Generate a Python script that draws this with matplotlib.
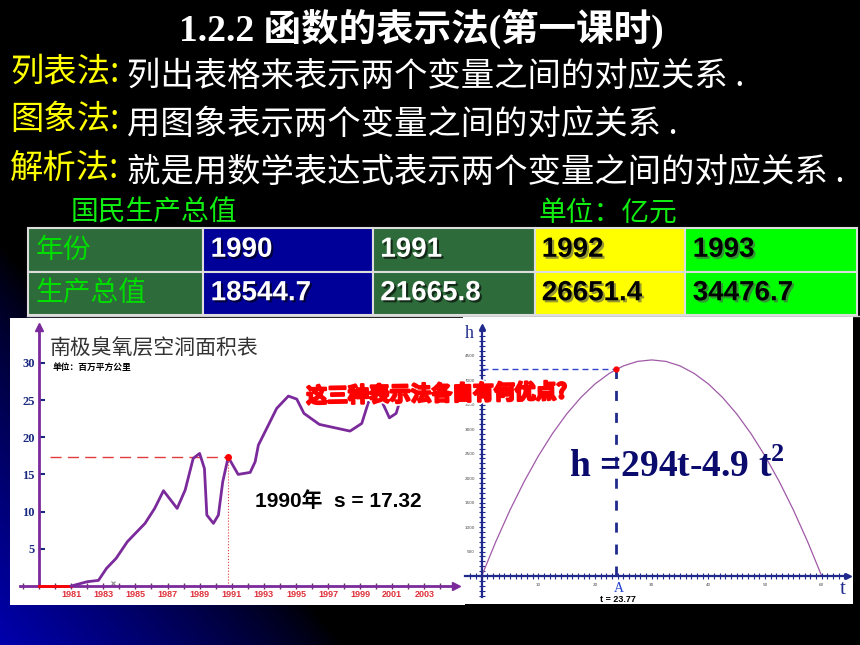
import numpy as np
import matplotlib.pyplot as plt
import matplotlib.patheffects as pe

plt.rcParams['mathtext.fontset'] = 'custom'
plt.rcParams['mathtext.rm'] = 'Liberation Serif'
plt.rcParams['mathtext.bf'] = 'Liberation Serif:bold'

W, H = 860, 645
CJK = ['Noto Sans CJK SC', 'DejaVu Sans']
SANS = ['Liberation Sans', 'Noto Sans CJK SC']
SERIF = ['Liberation Serif', 'Noto Sans CJK SC']

# --- table: GNP (亿元)
table_years = ['1990', '1991', '1992', '1993']
table_gnp = [18544.7, 21665.8, 26651.4, 34476.7]
row_labels = ['年份', '生产总值']

# --- ozone hole area (百万平方公里)
ozone_year = [1981.0, 1982.0, 1982.7, 1983.2, 1983.8, 1984.5, 1985.0, 1985.6, 1986.2, 1986.75,
              1987.6, 1988.1, 1988.6, 1989.0, 1989.3, 1989.45, 1989.86, 1990.17, 1990.44, 1990.78,
              1991.4, 1992.15, 1992.46, 1992.66, 1993.18, 1993.8, 1994.53, 1995.05, 1995.5, 1996.46,
              1998.37, 1999.1, 1999.51, 1999.9, 2000.34, 2000.65, 2000.82, 2001.24, 2001.49, 2001.7]
ozone_area = [0, 0.58, 0.76, 2.37, 3.72, 5.96, 7.08, 8.42, 10.43, 12.81,
              10.43, 12.9, 17.15, 17.82, 15.8, 9.54, 8.42, 9.54, 14.0, 17.32,
              15.0, 15.27, 16.7, 18.94, 21.18, 23.87, 25.53, 25.12, 23.2, 21.72,
              20.82, 21.85, 24.67, 25.6, 24.85, 23.42, 22.6, 23.2, 24.99, 25.3]
ozone_ticks = list(range(1981, 2004, 2))
ozone_yticks = [5, 10, 15, 20, 25, 30]
mark_year, mark_area = 1990.78, 17.32

# --- rocket height h (m) vs t (s)
rocket_t = [0, 2.5, 5, 7.5, 10, 12.5, 15, 17.5, 20, 22.5, 25, 27.5, 30,
            32.5, 35, 37.5, 40, 42.5, 45, 47.5, 50, 52.5, 55, 57.5, 60]
rocket_h = [0, 704, 1348, 1929, 2450, 2909, 3308, 3644, 3920, 4134, 4288, 4380, 4410,
            4380, 4288, 4134, 3920, 3644, 3308, 2909, 2450, 1929, 1348, 704, 0]
point_t, point_h = 23.77, 4220
rocket_xticks = [10, 20, 30, 40, 50, 60]
rocket_yticks = [500, 1000, 1500, 2000, 2500, 3000, 3500, 4000, 4500]


def fpos(x, y):
    return x / W, 1 - y / H


def frect(x0, y0, x1, y1):
    return [x0 / W, 1 - y1 / H, (x1 - x0) / W, (y1 - y0) / H]


fig = plt.figure(figsize=(8.6, 6.45), dpi=100, facecolor='black')

# background: black with blue glow in lower left
bg = fig.add_axes([0, 0, 1, 1])
bg.set_xlim(0, W)
bg.set_ylim(H, 0)
bg.axis('off')
yy, xx = np.mgrid[0:H:3, 0:W:3]
u = xx / W
v = (H - yy) / H
glow = np.clip(1 - u / 0.4 - v / 0.62, 0, 1) ** 0.8
img = np.zeros(xx.shape + (3,))
img[..., 2] = 0.68 * glow
bg.imshow(img, extent=[0, W, H, 0], aspect='auto', interpolation='bilinear')
bg.plot([27, 465], [316, 316], color='#cccccc', lw=1)
bg.plot([463, 860], [316, 316], color='#cccccc', lw=1)

# header texts
fig.text(*fpos(421, 29), '1.2.2 函数的表示法(第一课时)', ha='center', va='center',
         color='white', fontsize=27, fontweight='bold', family=SERIF)
heads = ['列表法:', '图象法:', '解析法:']
lines = ['列出表格来表示两个变量之间的对应关系 .',
         '用图象表示两个变量之间的对应关系 .',
         '就是用数学表达式表示两个变量之间的对应关系 .']
for i, (hd, ln) in enumerate(zip(heads, lines)):
    y = 72 + i * 48
    fig.text(*fpos(10, y), hd, ha='left', va='center', color='#ffff00',
             fontsize=24, family=CJK)
    fig.text(*fpos(127, y + 4), ln, ha='left', va='center', color='white',
             fontsize=24, family=CJK)

fig.text(*fpos(71, 213), '国民生产总值', ha='left', va='center', color='#11ee11',
         fontsize=20, family=CJK)
fig.text(*fpos(538, 213), '单位：亿元', ha='left', va='center', color='#11ee11',
         fontsize=20, family=CJK)

# table
tax = fig.add_axes(frect(28, 228, 857, 315))
tax.axis('off')
cell_text = [[row_labels[0]] + table_years,
             [row_labels[1]] + [f'{g:.1f}' for g in table_gnp]]
col_bg = ['#2d6b3a', '#000099', '#2d6b3a', '#ffff00', '#00ff00']
col_fg = ['#00dd00', 'white', 'white', 'black', 'black']
widths = np.array([175, 170, 162, 150, 172]) / 829
tbl = tax.table(cellText=cell_text, cellColours=[col_bg, col_bg], colWidths=widths,
                cellLoc='left', bbox=[0, 0, 1, 1])
tbl.auto_set_font_size(False)
for (r, c), cell in tbl.get_celld().items():
    cell.set_edgecolor('#dddddd')
    cell.set_linewidth(1.5)
    cell.PAD = 0.045
    t = cell.get_text()
    t.set_color(col_fg[c])
    t.set_fontsize(20)
    if c == 0:
        t.set_family(CJK)
    else:
        t.set_fontweight('bold')
        t.set_family(SANS)
        shadow = 'black' if col_fg[c] == 'white' else '#555555'
        t.set_path_effects([pe.withSimplePatchShadow(offset=(1.5, -1.5),
                                                     shadow_rgbFace=shadow, alpha=0.6)])

# left chart: ozone hole
purple = '#7b2a9b'
ax1 = fig.add_axes(frect(10, 318, 465, 605))
ax1.set_facecolor('white')
ax1.set_xlim(1977.19, 2005.53)
ax1.set_ylim(-2.55, 36.02)
for s in ['top', 'right']:
    ax1.spines[s].set_visible(False)
ax1.spines['left'].set_position(('data', 1979))
ax1.spines['left'].set_bounds(0, 34.8)
ax1.spines['bottom'].set_position(('data', 0))
ax1.spines['bottom'].set_bounds(1977.82, 2005.0)
for s in ['left', 'bottom']:
    ax1.spines[s].set_color(purple)
    ax1.spines[s].set_linewidth(2)
ax1.plot(1979, 34.8, marker='^', color=purple, ms=6, clip_on=False)
ax1.plot(2005.0, 0, marker='>', color=purple, ms=6, clip_on=False)
ax1.set_xticks(ozone_ticks)
ax1.set_xticklabels([str(y) for y in ozone_ticks], color='#e0303a', fontsize=6.5,
                    fontweight='bold', family='Liberation Sans')
ax1.set_xticks(range(1978, 2005), minor=True)
ax1.tick_params(axis='x', which='both', direction='inout', length=4, width=1,
                color='#663366', pad=1)
ax1.set_yticks(ozone_yticks)
ax1.set_yticklabels([str(v) for v in ozone_yticks], color='#1a2a80', fontsize=9,
                    fontweight='bold', family='Liberation Serif')
ax1.tick_params(axis='y', direction='in', length=4, width=1.5, color='#1a2a80', pad=3)
ax1.plot([1979, 1981], [0, 0], color='red', lw=2, zorder=3)
ax1.plot(ozone_year, ozone_area, color=purple, lw=2, zorder=4)
ax1.plot([1979.69, mark_year], [mark_area, mark_area], color='#e03c3c', lw=1,
         dashes=(8, 4.5))
ax1.plot([mark_year, mark_year], [0, mark_area], color='#e03c3c', lw=0.8, ls=':')
ax1.plot(mark_year, mark_area, 'o', color='red', ms=4, zorder=5)
ax1.plot(1983.6, 0.4, marker='x', color='#888888', ms=3, mew=0.8)

fig.text(*fpos(50, 348), '南极臭氧层空洞面积表', ha='left', va='center',
         color='#333333', fontsize=15, family=CJK)
fig.text(*fpos(53, 367), '单位：百万平方公里', ha='left', va='center',
         color='black', fontsize=6.3, fontweight='bold', family=CJK)
fig.text(*fpos(255, 501), '1990年  s = 17.32', ha='left', va='center',
         color='black', fontsize=15, fontweight='bold', family=SANS)

# right chart: h = 294t - 4.9t^2
navy = '#1f2a8c'
ax2 = fig.add_axes(frect(463, 317, 853, 604))
ax2.set_facecolor('white')
ax2.set_xlim(-3.30, 65.52)
ax2.set_ylim(-571, 5286)
for s in ['top', 'right']:
    ax2.spines[s].set_visible(False)
ax2.spines['left'].set_position(('data', 0))
ax2.spines['left'].set_bounds(-422, 5088)
ax2.spines['bottom'].set_position(('data', 0))
ax2.spines['bottom'].set_bounds(-2.95, 64.6)
for s in ['left', 'bottom']:
    ax2.spines[s].set_color(navy)
    ax2.spines[s].set_linewidth(1.6)
ax2.plot(0, 5088, marker='^', color=navy, ms=5, clip_on=False)
ax2.plot(64.6, 0, marker='>', color=navy, ms=5, clip_on=False)
ax2.set_xticks(rocket_xticks)
ax2.set_xticklabels([str(t) for t in rocket_xticks], fontsize=3, color='#444444')
ax2.set_xticks(range(-2, 65), minor=True)
ax2.set_yticks(rocket_yticks)
ax2.set_yticklabels([str(h) for h in rocket_yticks], fontsize=3, color='#444444')
ax2.set_yticks(range(-400, 5001, 100), minor=True)
ax2.tick_params(which='both', direction='inout', length=4, width=0.8, color=navy, pad=3)
ax2.plot(rocket_t, rocket_h, color='#a05aa8', lw=0.9)
ax2.plot([0, point_t], [point_h, point_h], color='#3344cc', lw=1, dashes=(4.3, 2.9))
ax2.plot([point_t, point_t], [0, point_h], color=navy, lw=2, dashes=(3.6, 4.3))
ax2.plot(point_t, point_h, 'o', color='red', ms=3.5, zorder=5)

fig.text(*fpos(619, 588), 'A', ha='center', va='center', color='#2040d0',
         fontsize=10, family='Liberation Serif')
fig.text(*fpos(618, 599), 't = 23.77', ha='center', va='center', color='black',
         fontsize=6.5, fontweight='bold', family='Liberation Sans')
fig.text(*fpos(469, 334), 'h', ha='center', va='center', color=navy,
         fontsize=13, family='Liberation Serif')
fig.text(*fpos(843, 589), 't', ha='center', va='center', color=navy,
         fontsize=15, family='Liberation Serif')
fig.text(*fpos(569, 467), r'h =294t-4.9 t$^{\mathbf{2}}$', ha='left', va='center',
         color='#0b0b6e', fontsize=27, fontweight='bold', family='Liberation Serif')

# overlay question
fig.text(*fpos(437, 394), '这三种表示法各自有何优点?', ha='center', va='center',
         color='#ff0000', fontsize=15, fontweight='heavy', family=CJK, rotation=1,
         zorder=10, path_effects=[pe.withStroke(linewidth=4, foreground='white'),
                                  pe.withStroke(linewidth=1.6, foreground='#ff0000')])

fig.savefig('out.png', dpi=100, facecolor='black')
